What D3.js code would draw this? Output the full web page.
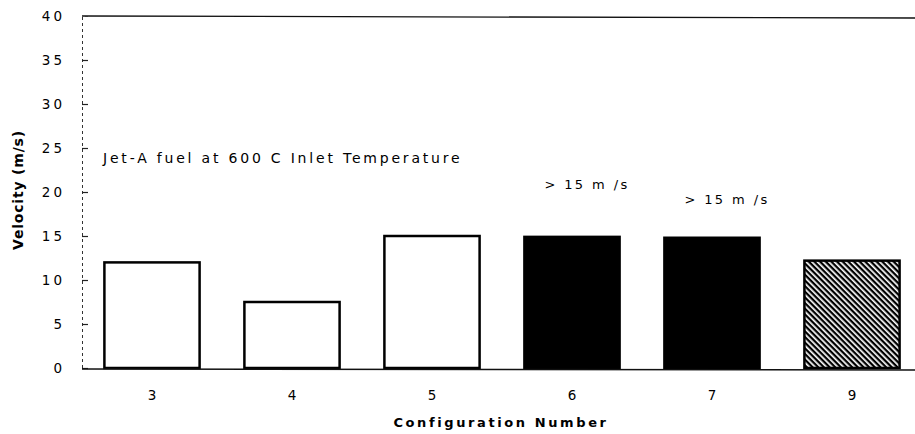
<!DOCTYPE html>
<html>
<head>
<meta charset="utf-8">
<script src="https://cdn.jsdelivr.net/npm/d3@7"></script>
<style>
  body { margin: 0; background: #fff; }
  text { font-family: "DejaVu Sans", sans-serif; fill: #000; }
</style>
</head>
<body>
<svg id="chart" width="915" height="434"></svg>
<script>
// data
const configs = ["3", "4", "5", "6", "7", "9"];
const velocity = [12.0, 7.5, 15.0, 14.9, 14.8, 12.2];
const fills = ["white", "white", "white", "black", "black", "hatch"];
const yTicks = [0, 5, 10, 15, 20, 25, 30, 35, 40];
const notes = [
  { config: "6", value: 20.3, text: "> 15 m /s" },
  { config: "7", value: 18.6, text: "> 15 m /s" }
];

const svg = d3.select("#chart");

const x = d3.scaleBand()
  .domain(configs)
  .range([82, 922])
  .paddingInner(0.32)
  .paddingOuter(0.16);

const y = d3.scaleLinear()
  .domain([0, 40])
  .range([368, 16]);

// hatch pattern for config 9
const defs = svg.append("defs");
defs.append("pattern")
  .attr("id", "hatch")
  .attr("patternUnits", "userSpaceOnUse")
  .attr("width", 4)
  .attr("height", 4)
  .attr("patternTransform", "rotate(45)")
  .append("rect")
  .attr("x", 0).attr("y", 0)
  .attr("width", 4).attr("height", 2.3)
  .attr("fill", "black");

// top frame line
svg.append("line")
  .attr("x1", 82).attr("x2", 915)
  .attr("y1", y(40)).attr("y2", y(40) + 2)
  .attr("stroke", "#111")
  .attr("stroke-width", 1.3);

// y axis (dashed, as in the scan)
const yAxis = d3.axisLeft(y)
  .tickValues(yTicks)
  .tickSize(-6)
  .tickPadding(17);

const yAxisGroup = svg.append("g")
  .attr("transform", "translate(82,0)")
  .call(yAxis);

yAxisGroup.select(".domain")
  .attr("stroke", "#333")
  .attr("stroke-dasharray", "3,3")
  .attr("stroke-width", 1);

yAxisGroup.selectAll(".tick line")
  .attr("stroke", "#222")
  .attr("stroke-width", 1.2);

yAxisGroup.selectAll(".tick text")
  .style("font-size", "13.5px")
  .style("letter-spacing", "3px")
  .attr("fill", "#000");

yAxisGroup.select(".tick:last-of-type line").remove();

// bars
svg.selectAll(".bar")
  .data(configs)
  .join("rect")
  .attr("class", "bar")
  .attr("x", d => x(d))
  .attr("width", x.bandwidth())
  .attr("y", (d, i) => y(velocity[i]))
  .attr("height", (d, i) => y(0) - y(velocity[i]))
  .attr("fill", (d, i) => fills[i] === "hatch" ? "url(#hatch)" : fills[i])
  .attr("stroke", "black")
  .attr("stroke-width", 2.5);

// baseline
svg.append("line")
  .attr("x1", 82).attr("x2", 915)
  .attr("y1", y(0) + 1).attr("y2", y(0) + 2)
  .attr("stroke", "#111")
  .attr("stroke-width", 1.5);

// x labels
svg.selectAll(".xlabel")
  .data(configs)
  .join("text")
  .attr("class", "xlabel")
  .attr("x", d => x(d) + x.bandwidth() / 2)
  .attr("y", 400)
  .attr("text-anchor", "middle")
  .style("font-size", "13.5px")
  .text(d => d);

// axis titles
svg.append("text")
  .attr("x", 501)
  .attr("y", 427)
  .attr("text-anchor", "middle")
  .style("font-size", "13px")
  .style("font-weight", "bold")
  .style("letter-spacing", "2.6px")
  .text("Configuration Number");

svg.append("text")
  .attr("transform", "translate(23,190) rotate(-90)")
  .attr("text-anchor", "middle")
  .style("font-size", "14px")
  .style("font-weight", "bold")
  .style("letter-spacing", "0.8px")
  .text("Velocity (m/s)");

// annotations
svg.append("text")
  .attr("x", 103)
  .attr("y", 163)
  .style("font-size", "14px")
  .style("letter-spacing", "2.8px")
  .text("Jet-A fuel at 600 C Inlet Temperature");

svg.selectAll(".note")
  .data(notes)
  .join("text")
  .attr("class", "note")
  .attr("x", d => x(d.config) + x.bandwidth() / 2 + 15)
  .attr("y", d => y(d.value))
  .attr("text-anchor", "middle")
  .style("font-size", "13px")
  .style("letter-spacing", "2.4px")
  .text(d => d.text);
</script>
</body>
</html>
